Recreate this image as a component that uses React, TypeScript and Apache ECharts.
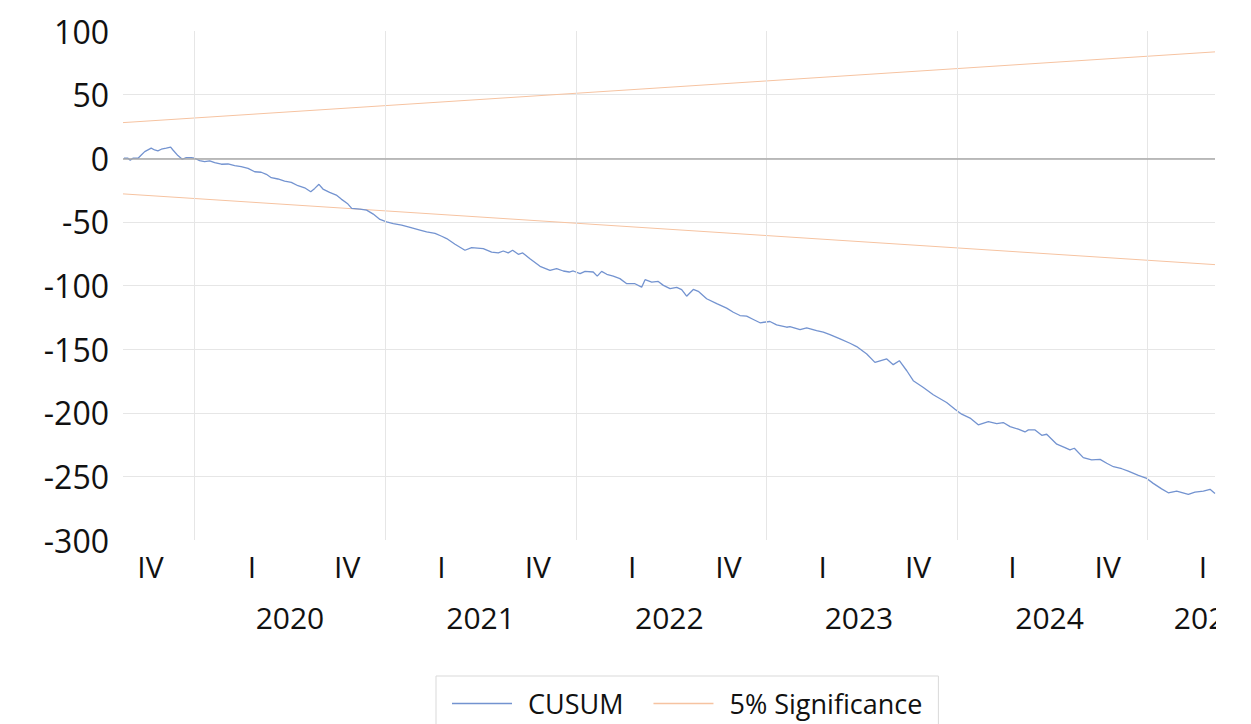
import React, { useEffect, useRef } from "react";
import * as echarts from "echarts";

// CUSUM readings (time in fractional years, value)
const CUSUM_T = [
  2019.629, 2019.65, 2019.662, 2019.676, 2019.703, 2019.72, 2019.738, 2019.772, 2019.79, 2019.807,
  2019.825, 2019.851, 2019.874, 2019.886, 2019.912, 2019.935, 2019.956, 2019.982, 2020.0, 2020.026,
  2020.052, 2020.079, 2020.105, 2020.14, 2020.175, 2020.21, 2020.244, 2020.28, 2020.315, 2020.349,
  2020.376, 2020.402, 2020.437, 2020.472, 2020.507, 2020.542, 2020.577, 2020.609, 2020.63, 2020.652,
  2020.673, 2020.708, 2020.743, 2020.769, 2020.801, 2020.824, 2020.867, 2020.902, 2020.937, 2020.972,
  2021.007, 2021.042, 2021.086, 2021.13, 2021.182, 2021.217, 2021.261, 2021.296, 2021.322, 2021.366,
  2021.418, 2021.453, 2021.514, 2021.558, 2021.593, 2021.619, 2021.645, 2021.668, 2021.698, 2021.721,
  2021.759, 2021.812, 2021.864, 2021.899, 2021.934, 2021.965, 2021.986, 2022.022, 2022.048, 2022.091,
  2022.112, 2022.135, 2022.162, 2022.196, 2022.231, 2022.267, 2022.31, 2022.345, 2022.363, 2022.398,
  2022.432, 2022.459, 2022.494, 2022.529, 2022.555, 2022.581, 2022.616, 2022.642, 2022.686, 2022.739,
  2022.791, 2022.826, 2022.861, 2022.896, 2022.931, 2022.966, 2023.018, 2023.053, 2023.106, 2023.123,
  2023.176, 2023.211, 2023.263, 2023.298, 2023.333, 2023.386, 2023.438, 2023.473, 2023.526, 2023.569,
  2023.631, 2023.665, 2023.697, 2023.736, 2023.77, 2023.823, 2023.875, 2023.945, 2023.989, 2024.024,
  2024.068, 2024.111, 2024.164, 2024.208, 2024.242, 2024.278, 2024.321, 2024.356, 2024.374, 2024.409,
  2024.444, 2024.47, 2024.523, 2024.566, 2024.592, 2024.615, 2024.662, 2024.706, 2024.75, 2024.785,
  2024.82, 2024.864, 2024.898, 2024.951, 2024.995, 2025.029, 2025.073, 2025.108, 2025.152, 2025.213,
  2025.248, 2025.292, 2025.327, 2025.353,
];
const CUSUM_V = [
  0, 0, -1.6, 0, 0, 2.6, 5.2, 7.9, 6.5, 5.8,
  7.1, 7.9, 8.7, 6.5, 2.1, -0.8, 0.5, 0.5, 0, -1.9,
  -2.7, -2.1, -3.5, -4.7, -4.5, -5.8, -6.6, -7.9, -10.6, -11.0,
  -12.6, -15.3, -16.3, -17.9, -18.9, -21.6, -23.2, -26.3, -23.7, -20.5,
  -24.2, -26.8, -28.9, -32.1, -35.5, -39.4, -40.0, -40.8, -43.9, -48.1,
  -50.0, -51.3, -52.6, -54.4, -56.5, -57.9, -59.1, -61.3, -63.1, -67.6,
  -72.3, -70.2, -71.0, -73.7, -74.4, -72.9, -74.4, -72.3, -75.5, -74.4,
  -78.9, -84.9, -88.1, -86.7, -88.6, -89.4, -88.6, -90.7, -88.9, -89.4,
  -92.6, -88.9, -91.2, -92.6, -94.6, -98.6, -98.6, -101.3, -95.4, -97.3,
  -96.8, -99.9, -102.5, -101.5, -103.3, -108.4, -103.1, -104.6, -110.4, -114.3,
  -117.8, -121.0, -123.6, -124.1, -126.7, -129.3, -128.3, -130.9, -132.8, -132.3,
  -134.6, -133.3, -135.4, -136.7, -138.6, -141.9, -145.4, -148.0, -153.8, -160.4,
  -157.7, -162.2, -159.1, -167.0, -174.8, -180.1, -185.9, -191.9, -197.2, -201.1,
  -204.2, -209.5, -206.9, -208.5, -207.7, -210.9, -212.9, -215.1, -213.5, -213.5,
  -217.7, -216.9, -224.7, -227.4, -229.2, -227.9, -235.3, -237.1, -236.6, -239.7,
  -242.4, -244.0, -245.8, -249.2, -251.6, -255.5, -259.8, -262.9, -261.6, -264.2,
  -262.4, -261.6, -260.2, -263.4,
];

// 5% significance bounds (endpoints)
const SIG_T = [2019.624, 2025.353];
const SIG_UPPER = [28.0, 83.6];
const SIG_LOWER = [-28.0, -83.6];

const X_MIN = 2019.624;
const X_MAX = 2025.353;

const YEAR_LINES = [2020, 2021, 2022, 2023, 2024, 2025];
const QUARTER_POS = [2019.768, 2020.3, 2020.8, 2021.295, 2021.8, 2022.295, 2022.8, 2023.295, 2023.795, 2024.29, 2024.79, 2025.29];
const QUARTER_LABELS = ["IV", "I", "IV", "I", "IV", "I", "IV", "I", "IV", "I", "IV", "I"];
const YEAR_POS = [2020.5, 2021.5, 2022.49, 2023.485, 2024.485, 2025.317];
const YEAR_LABELS = ["2020", "2021", "2022", "2023", "2024", "2025"];

const FONT = "'Open Sans', 'Noto Sans', sans-serif";
const BLUE = "#7393d0";
const ORANGE = "#f6c3a1";

function lookup(pos: number[], labels: string[], v: number): string {
  for (let i = 0; i < pos.length; i++) {
    if (Math.abs(pos[i] - v) < 1e-6) return labels[i];
  }
  return "";
}

export default function App() {
  const ref = useRef<HTMLDivElement>(null);

  useEffect(() => {
    if (!ref.current) return;
    const chart = echarts.init(ref.current, undefined, { renderer: "svg" });
    const cusum = CUSUM_T.map((t, i) => [t, CUSUM_V[i]]);
    const upper = SIG_T.map((t, i) => [t, SIG_UPPER[i]]);
    const lower = SIG_T.map((t, i) => [t, SIG_LOWER[i]]);

    chart.setOption({
      animation: false,
      backgroundColor: "#ffffff",
      grid: { left: 123, right: 36, top: 31, bottom: 184, containLabel: false },
      xAxis: [
        {
          type: "value",
          min: X_MIN,
          max: X_MAX,
          axisLine: { show: false },
          axisTick: { show: false },
          splitLine: { show: false },
          axisLabel: {
            customValues: QUARTER_POS,
            formatter: (v: number) => lookup(QUARTER_POS, QUARTER_LABELS, v),
            fontFamily: FONT,
            fontSize: 30,
            color: "#111",
            margin: 11,
          },
        },
        {
          type: "value",
          min: X_MIN,
          max: X_MAX,
          position: "bottom",
          axisLine: { show: false },
          axisTick: { show: false },
          splitLine: { show: false },
          axisLabel: {
            customValues: YEAR_POS,
            formatter: (v: number) => lookup(YEAR_POS, YEAR_LABELS, v),
            fontFamily: FONT,
            fontSize: 30,
            color: "#111",
            margin: 62,
          },
        },
      ],
      yAxis: {
        type: "value",
        min: -300,
        max: 100,
        interval: 50,
        axisLine: { show: false },
        axisTick: { show: false },
        axisLabel: { fontFamily: FONT, fontSize: 32, color: "#111", margin: 14, padding: [0, 0, 7, 0] },
        splitLine: { show: true, showMinLine: false, showMaxLine: false, lineStyle: { color: "#e6e6e6", width: 1 } },
      },
      legend: {
        left: 436,
        top: 676,
        data: ["CUSUM", "5% Significance"],
        icon: "rect",
        itemWidth: 60,
        itemHeight: 1.5,
        itemGap: 30,
        padding: [14, 16, 14, 16],
        borderColor: "#d9d9d9",
        borderWidth: 1,
        textStyle: { fontFamily: FONT, fontSize: 27, color: "#111", padding: [0, 0, 0, 11] },
      },
      graphic: {
        elements: [
          {
            type: "rect",
            z: 100,
            shape: { x: 1216, y: 590, width: 40, height: 70 },
            style: { fill: "#ffffff" },
          },
        ],
      },
      series: [
        {
          name: "grid",
          type: "line",
          data: [],
          z: 1,
          silent: true,
          markLine: {
            silent: true,
            symbol: ["none", "none"],
            label: { show: false },
            data: [
              ...YEAR_LINES.map((y) => ({ xAxis: y, lineStyle: { color: "#e6e6e6", width: 1, type: "solid" } })),
              { yAxis: 0, lineStyle: { color: "#a8a8a8", width: 1.5, type: "solid" } },
            ],
          },
        },
        {
          name: "5% Significance",
          type: "line",
          data: upper,
          symbol: "none",
          z: 2,
          lineStyle: { color: ORANGE, width: 1 },
          itemStyle: { color: ORANGE },
        },
        {
          name: "5% Significance",
          type: "line",
          data: lower,
          symbol: "none",
          z: 2,
          lineStyle: { color: ORANGE, width: 1 },
          itemStyle: { color: ORANGE },
        },
        {
          name: "CUSUM",
          type: "line",
          data: cusum,
          symbol: "none",
          z: 3,
          lineStyle: { color: BLUE, width: 1.3 },
          itemStyle: { color: BLUE },
        },
      ],
    });
    return () => chart.dispose();
  }, []);

  return (
    <div
      ref={ref}
      style={{ position: "fixed", left: 0, top: 0, width: 1251, height: 724, background: "#fff" }}
    />
  );
}
